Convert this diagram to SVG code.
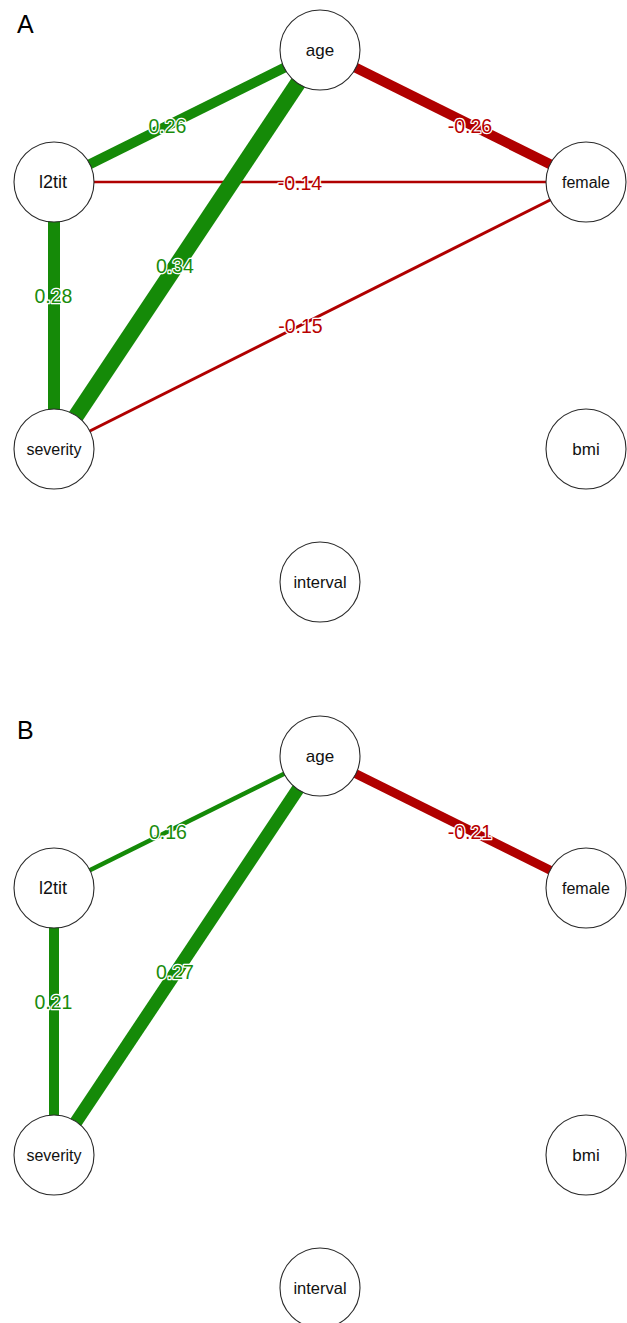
<svg xmlns="http://www.w3.org/2000/svg" width="627" height="1323" viewBox="0 0 627 1323">
<style>
.node circle{fill:#fff;stroke:#2a2a2a;stroke-width:1.1}
.node text{font-family:"Liberation Sans",Arial,sans-serif;font-size:16.5px;fill:#111;text-anchor:middle}
.pos{stroke:#158a08;stroke-linecap:butt}
.neg{stroke:#b00000;stroke-linecap:butt}
.el{font-family:"Liberation Sans",Arial,sans-serif;font-size:19.5px;text-anchor:middle;stroke:#fff;stroke-width:2.5;paint-order:stroke;stroke-linejoin:round}
.elp{fill:#198c0c}
.eln{fill:#b80000}
.panel{font-family:"Liberation Sans",Arial,sans-serif;font-size:25px;fill:#000}
</style>
<rect width="627" height="1323" fill="#fff"/>
<text class="panel" x="17" y="33">A</text>
<text class="panel" x="17" y="739">B</text>
<g id="connectors">
  <!-- Panel A -->
  <line class="pos" x1="54" y1="182" x2="320" y2="50" stroke-width="10"/>
  <line class="neg" x1="320" y1="50" x2="586" y2="182" stroke-width="10"/>
  <line class="neg" x1="54" y1="182" x2="586" y2="182" stroke-width="2.5"/>
  <line class="pos" x1="54" y1="182" x2="54" y2="449" stroke-width="12"/>
  <line class="pos" x1="320" y1="50" x2="54" y2="449" stroke-width="16"/>
  <line class="neg" x1="54" y1="449" x2="586" y2="182" stroke-width="3"/>
  <text class="el elp" x="167.5" y="133">0.26</text>
  <text class="el eln" x="470" y="133">-0.26</text>
  <text class="el eln" x="300" y="190">-0.14</text>
  <text class="el elp" x="53.5" y="303">0.28</text>
  <text class="el elp" x="175" y="273">0.34</text>
  <text class="el eln" x="300.5" y="333">-0.15</text>
  <!-- Panel B -->
  <line class="pos" x1="54" y1="888" x2="320" y2="756" stroke-width="4.5"/>
  <line class="neg" x1="320" y1="756" x2="586" y2="888" stroke-width="9"/>
  <line class="pos" x1="54" y1="888" x2="54" y2="1155" stroke-width="10"/>
  <line class="pos" x1="320" y1="756" x2="54" y2="1155" stroke-width="13"/>
  <text class="el elp" x="168" y="839">0.16</text>
  <text class="el eln" x="470" y="839">-0.21</text>
  <text class="el elp" x="53.5" y="1009">0.21</text>
  <text class="el elp" x="175" y="979">0.27</text>
</g>
<g id="A_age" class="node"><circle cx="320" cy="50" r="40"/><text x="320" y="56" style="font-size:17px">age</text></g>
<g id="A_l2tit" class="node"><circle cx="54" cy="182" r="40"/><text x="53" y="188" style="font-size:18px">l2tit</text></g>
<g id="A_female" class="node"><circle cx="586" cy="182" r="40"/><text x="586" y="188" style="font-size:16px">female</text></g>
<g id="A_severity" class="node"><circle cx="54" cy="449" r="40"/><text x="54" y="455" style="font-size:16px">severity</text></g>
<g id="A_bmi" class="node"><circle cx="586" cy="449" r="40"/><text x="586" y="455" style="font-size:17px">bmi</text></g>
<g id="A_interval" class="node"><circle cx="320" cy="582" r="40"/><text x="320" y="588">interval</text></g>
<g id="B_age" class="node"><circle cx="320" cy="756" r="40"/><text x="320" y="762" style="font-size:17px">age</text></g>
<g id="B_l2tit" class="node"><circle cx="54" cy="888" r="40"/><text x="53" y="894" style="font-size:18px">l2tit</text></g>
<g id="B_female" class="node"><circle cx="586" cy="888" r="40"/><text x="586" y="894" style="font-size:16px">female</text></g>
<g id="B_severity" class="node"><circle cx="54" cy="1155" r="40"/><text x="54" y="1161" style="font-size:16px">severity</text></g>
<g id="B_bmi" class="node"><circle cx="586" cy="1155" r="40"/><text x="586" y="1161" style="font-size:17px">bmi</text></g>
<g id="B_interval" class="node"><circle cx="320" cy="1288" r="40"/><text x="320" y="1294">interval</text></g>
</svg>
